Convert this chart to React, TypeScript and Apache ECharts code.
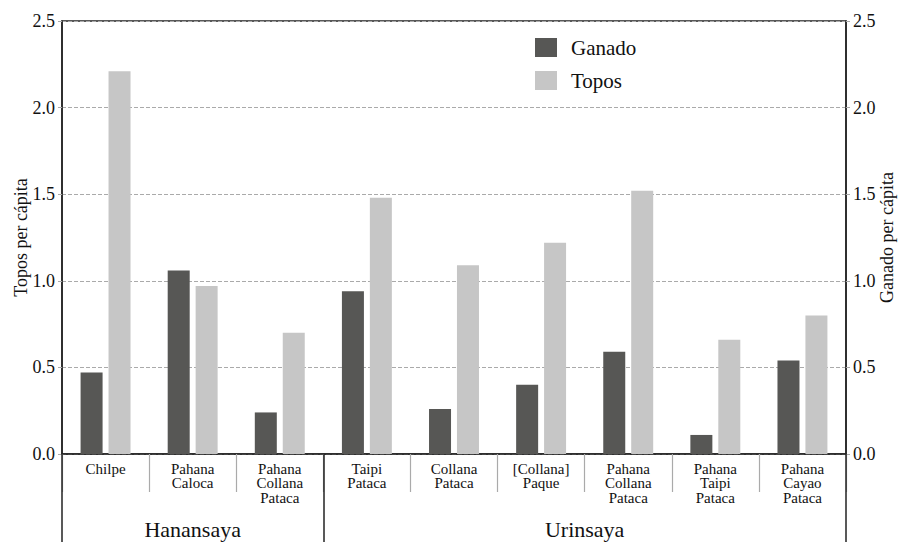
import React, { useEffect, useRef } from "react";
import * as echarts from "echarts";

const categories = [
  "Chilpe",
  "Pahana\nCaloca",
  "Pahana\nCollana\nPataca",
  "Taipi\nPataca",
  "Collana\nPataca",
  "[Collana]\nPaque",
  "Pahana\nCollana\nPataca",
  "Pahana\nTaipi\nPataca",
  "Pahana\nCayao\nPataca",
];
const ganado = [0.47, 1.06, 0.24, 0.94, 0.26, 0.4, 0.59, 0.11, 0.54];
const topos = [2.21, 0.97, 0.7, 1.48, 1.09, 1.22, 1.52, 0.66, 0.8];
const groups = ["Hanansaya", "Urinsaya"];
const groupSizes = [3, 6];

const FONT = "'Liberation Serif', 'DejaVu Serif', serif";

export default function App() {
  const ref = useRef<HTMLDivElement>(null);
  useEffect(() => {
    if (!ref.current) return;
    const chart = echarts.init(ref.current, undefined, { renderer: "svg" });
    const groupStarts: number[] = [];
    let acc = 0;
    groupSizes.forEach((s) => {
      groupStarts.push(acc);
      acc += s;
    });
    const yAxisCommon = {
      type: "value",
      min: 0,
      max: 2.5,
      interval: 0.5,
      nameLocation: "middle",
      nameRotate: 90,
      nameMoveOverlap: false,
      nameTextStyle: { fontFamily: FONT, fontSize: 18, color: "#111" },
      axisLabel: {
        fontFamily: FONT,
        fontSize: 18,
        color: "#111",
        margin: 7,
        formatter: (v: number) => v.toFixed(1),
      },
      axisTick: { show: true, length: 4, lineStyle: { color: "#aaa", type: "dashed" } },
    };
    chart.setOption({
      animation: false,
      textStyle: { fontFamily: FONT },
      grid: {
        left: 62,
        right: 52,
        top: 21,
        bottom: 88,
        show: true,
        borderColor: "#222",
        borderWidth: 1.5,
        containLabel: false,
        outerBoundsMode: "none",
      },
      legend: {
        orient: "vertical",
        left: 535,
        top: 37,
        padding: 0,
        itemWidth: 22,
        itemHeight: 19,
        itemGap: 12,
        icon: "rect",
        textStyle: { fontFamily: FONT, fontSize: 21, color: "#111", padding: [0, 0, 0, 9] },
        data: ["Ganado", "Topos"],
      },
      xAxis: [
        {
          type: "category",
          position: "bottom",
          data: categories,
          axisLine: { show: true, lineStyle: { color: "#222", width: 1.5 } },
          axisTick: { show: true, length: 38, lineStyle: { color: "#aaa", width: 1.2 } },
          axisLabel: {
            fontFamily: FONT,
            fontSize: 15,
            lineHeight: 14.3,
            color: "#111",
            margin: 8,
            interval: 0,
          },
        },
        {
          type: "category",
          position: "bottom",
          data: categories,
          axisLine: { show: false },
          axisLabel: { show: false },
          axisTick: {
            show: true,
            length: 90,
            interval: (i: number) => groupStarts.indexOf(i) >= 0,
            lineStyle: { color: "#222", width: 1.5 },
          },
        },
      ],
      yAxis: [
        {
          ...yAxisCommon,
          position: "left",
          name: "Topos per cápita",
          nameGap: 32,
          axisLine: { show: true, lineStyle: { color: "#222", width: 1.5 } },
          splitLine: { show: true, lineStyle: { color: "#aaa", type: "dashed", width: 1 } },
        },
        {
          ...yAxisCommon,
          position: "right",
          name: "Ganado per cápita",
          nameGap: 32,
          axisLine: { show: true, lineStyle: { color: "#222", width: 1.5 } },
          splitLine: { show: false },
        },
      ],
      series: [
        {
          name: "Ganado",
          type: "bar",
          yAxisIndex: 1,
          data: ganado,
          barWidth: 22,
          barGap: "27%",
          itemStyle: { color: "#575755" },
        },
        {
          name: "Topos",
          type: "bar",
          yAxisIndex: 0,
          data: topos,
          barWidth: 22,
          barGap: "27%",
          itemStyle: { color: "#c6c6c6" },
        },
      ],
    });
    const y0 = (chart.convertToPixel({ gridIndex: 0 }, [0, 0]) as number[])[1];
    const graphics = groups.map((g, gi) => {
      const first = groupStarts[gi];
      const last = first + groupSizes[gi] - 1;
      const x1 = (chart.convertToPixel({ gridIndex: 0 }, [first, 0]) as number[])[0];
      const x2 = (chart.convertToPixel({ gridIndex: 0 }, [last, 0]) as number[])[0];
      return {
        type: "text",
        x: (x1 + x2) / 2,
        y: y0 + 75,
        style: {
          text: g,
          fontFamily: FONT,
          fontSize: 22,
          fill: "#111",
          align: "center",
          verticalAlign: "middle",
        },
      };
    });
    chart.setOption({ graphic: graphics });
    return () => chart.dispose();
  }, []);
  return <div ref={ref} style={{ width: 898, height: 542, position: "absolute", left: 0, top: 0 }} />;
}
